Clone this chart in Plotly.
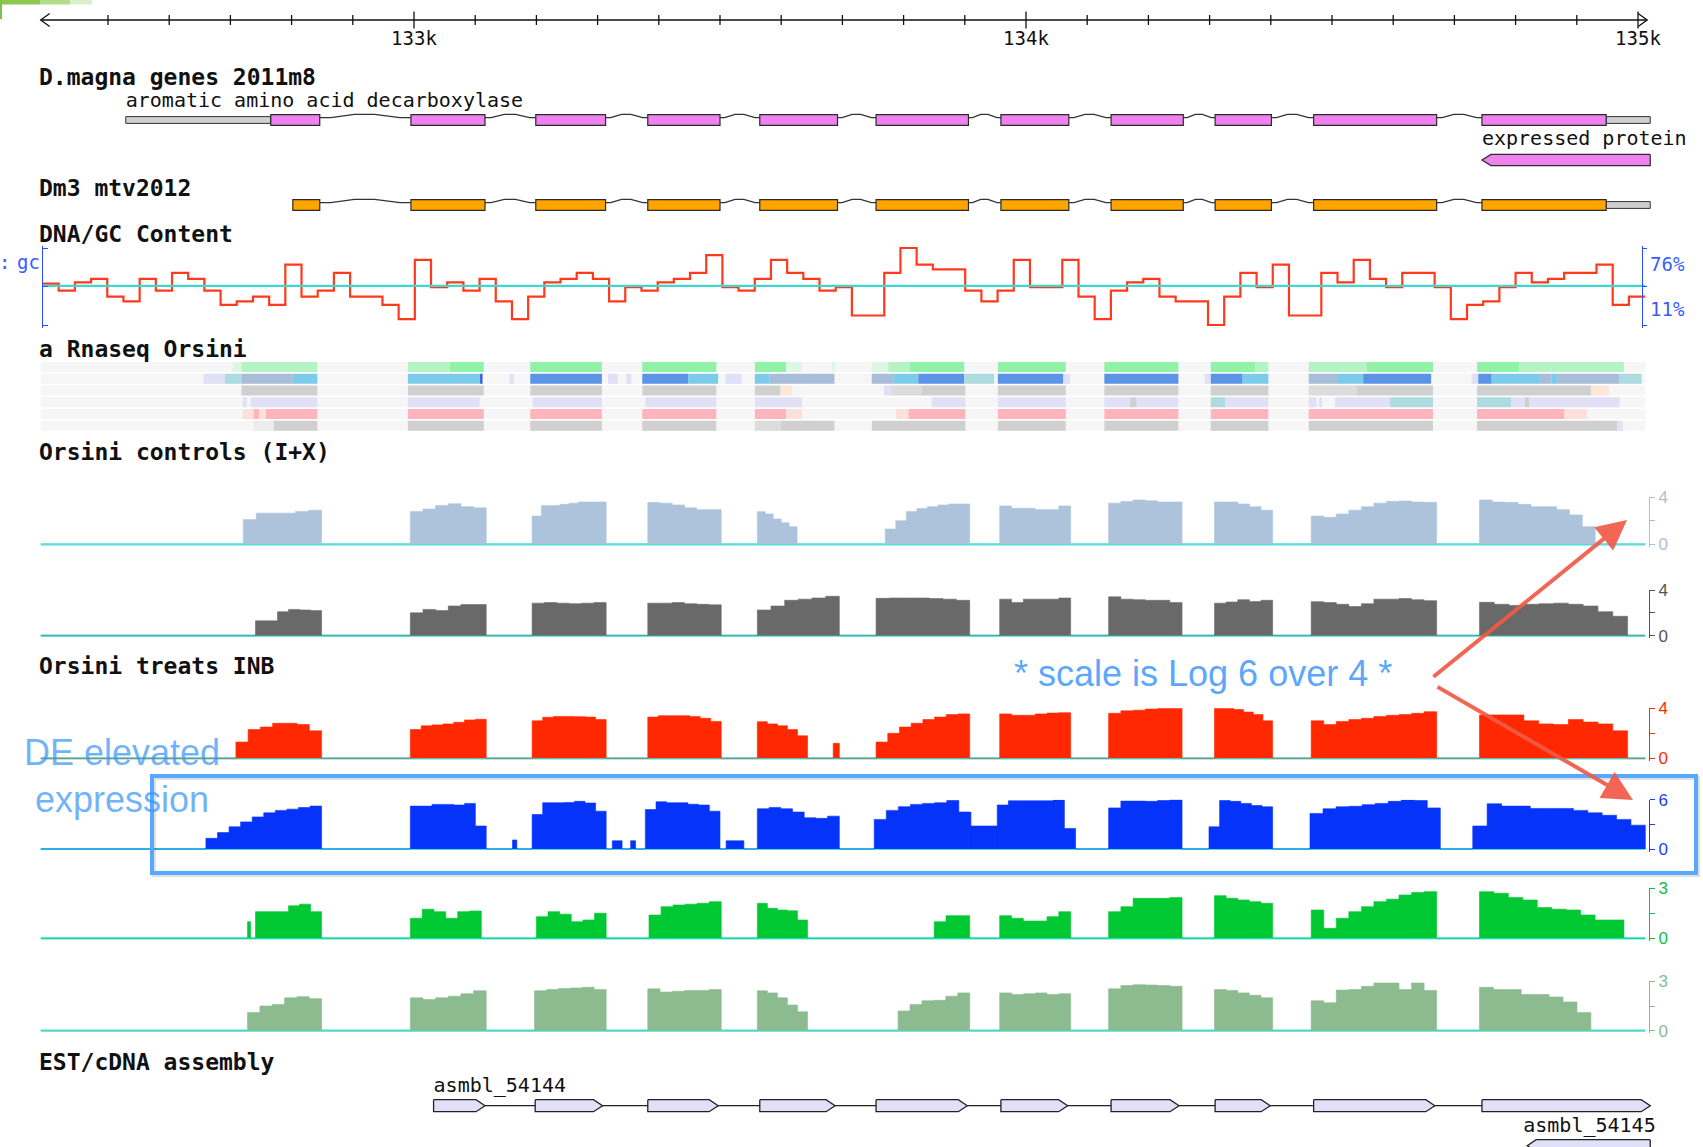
import plotly.graph_objects as go

W, H = 1703, 1147
PX_133K, PX_134K = 414.0, 1026.0
BP_PER_PX = 1000.0 / (PX_134K - PX_133K)
X0 = 133000 - PX_133K * BP_PER_PX
X1 = X0 + W * BP_PER_PX

# ------------------------------------------------------------------ data
ruler_span = [132390, 135015]
ruler_major = [133000, 134000, 135000]
ruler_major_labels = ["133k", "134k", "135k"]
ruler_minor = [132500, 132600, 132700, 132800, 132900,
               133100, 133200, 133300, 133400, 133500, 133600, 133700, 133800, 133900,
               134100, 134200, 134300, 134400, 134500, 134600, 134700, 134800, 134900]

dmagna_label = "aromatic amino acid decarboxylase"
dmagna_utrs = [(132529, 132766), (134948, 135020)]
dmagna_exon_starts = [132766, 132995, 133199, 133382, 133565, 133755, 133959, 134139, 134309, 134470, 134745]
dmagna_exon_ends = [132846, 133116, 133313, 133500, 133692, 133906, 134070, 134257, 134401, 134671, 134948]
expressed_label = "expressed protein"
expressed_protein = (134745, 135020)

dm3_utrs = [(134948, 135020)]
dm3_exon_starts = [132802, 132995, 133199, 133382, 133565, 133755, 133959, 134139, 134309, 134470, 134745]
dm3_exon_ends = [132846, 133116, 133313, 133500, 133692, 133906, 134070, 134257, 134401, 134671, 134948]

gc_start = 132393
gc_window = 26.45
gc_values = [46, 40, 47, 50, 35, 31, 50, 40, 55, 50, 40, 28, 31, 35, 28, 62, 35, 40, 55, 35,
             35, 28, 16, 66, 43, 47, 40, 50, 31, 16, 35, 47, 50, 55, 50, 31, 43, 40, 47, 50,
             55, 70, 43, 40, 50, 66, 55, 50, 40, 43, 19, 19, 55, 76, 62, 58, 58, 40, 31, 40,
             66, 43, 43, 66, 35, 16, 40, 47, 50, 35, 31, 31, 11, 35, 55, 43, 62, 19, 19, 55,
             47, 66, 50, 43, 55, 55, 43, 16, 28, 31, 43, 55, 47, 50, 55, 55, 62, 28, 35]
gc_range = [11, 76]
gc_mid = 44

# Rnaseq summary rows: (start, end, colour)
G1, G2, G3 = "#90f2a6", "#b4f4c4", "#dcf8e4"
LAV, TEAL, GB, SKY, BL, DB = "#e0e0f6", "#aedbe0", "#a8bdd8", "#7ccbea", "#5b94e6", "#2f5fd8"
GR, LG, LG2, PEACH = "#d0d0d0", "#dcdcdc", "#ececec", "#fbe8da"
PINK, PEACH2 = "#ffb3bd", "#fde0dc"
rna_rows = [
    [(132704, 132718, G3), (132718, 132842, G2), (132990, 133059, G2), (133059, 133114, G1),
     (133190, 133307, G1), (133373, 133494, G1), (133557, 133608, G1), (133608, 133634, G3),
     (133683, 133688, G3), (133748, 133775, G3), (133775, 133810, G2), (133810, 133899, G1),
     (133954, 134065, G1), (134128, 134249, G1), (134302, 134375, G1), (134375, 134396, G2),
     (134462, 134557, G2), (134557, 134665, G1), (134737, 134806, G1), (134806, 134977, G2)],
    [(132656, 132691, LAV), (132691, 132718, TEAL), (132718, 132802, GB), (132802, 132842, SKY),
     (132990, 133108, SKY), (133108, 133112, DB), (133156, 133163, LAV), (133190, 133307, BL),
     (133317, 133333, LAV), (133347, 133355, LAV), (133373, 133448, BL), (133448, 133497, SKY),
     (133509, 133535, LAV), (133557, 133581, SKY), (133581, 133687, GB),
     (133748, 133784, GB), (133784, 133824, SKY), (133824, 133899, BL), (133899, 133948, TEAL),
     (133954, 134061, BL), (134061, 134072, LAV), (134128, 134249, BL), (134292, 134302, LAV),
     (134302, 134354, BL), (134354, 134396, SKY), (134462, 134508, GB), (134508, 134551, SKY),
     (134551, 134662, BL), (134728, 134739, LAV), (134739, 134761, BL), (134761, 134840, SKY),
     (134840, 134859, GB), (134859, 134868, SKY), (134868, 134969, GB), (134969, 135006, TEAL)],
    [(132718, 132842, GR), (132990, 133114, GR), (133190, 133307, GR), (133373, 133494, GR),
     (133557, 133599, GR), (133599, 133618, PEACH), (133768, 133779, LAV), (133779, 133830, LG),
     (133830, 133901, GR), (133954, 134065, GR), (134128, 134249, GR), (134302, 134396, GR),
     (134462, 134540, LG), (134540, 134665, GR), (134737, 134923, GR), (134923, 134953, PEACH)],
    [(132720, 132727, LAV), (132733, 132842, LAV), (132990, 133107, LAV), (133194, 133307, LAV),
     (133378, 133494, LAV), (133557, 133634, LAV), (133846, 133901, LAV), (133954, 134065, LAV),
     (134128, 134170, LAV), (134170, 134181, GR), (134181, 134249, LAV), (134302, 134326, TEAL),
     (134326, 134396, LAV), (134462, 134475, LAV), (134479, 134484, LAV), (134505, 134595, LAV),
     (134595, 134665, TEAL), (134737, 134793, TEAL), (134793, 134815, LAV), (134815, 134822, GR),
     (134822, 134970, LAV)],
    [(132720, 132738, PEACH2), (132738, 132747, PINK), (132747, 132758, PEACH2), (132758, 132842, PINK),
     (132990, 133114, PINK), (133190, 133307, PINK), (133373, 133494, PINK), (133557, 133608, PINK),
     (133608, 133634, PEACH2), (133788, 133808, PEACH2), (133808, 133901, PINK), (133954, 134065, PINK),
     (134128, 134249, PINK), (134302, 134396, PINK), (134462, 134665, PINK), (134737, 134880, PINK),
     (134880, 134917, PEACH2)],
    [(132738, 132771, LG2), (132771, 132842, GR), (132990, 133114, GR), (133190, 133307, GR),
     (133373, 133494, GR), (133557, 133599, LG), (133599, 133687, GR), (133748, 133901, GR),
     (133954, 134065, GR), (134128, 134249, GR), (134302, 134396, GR), (134462, 134665, GR),
     (134737, 134966, GR), (134966, 134975, LAV)],
]
rna_span = (132390, 135012)

# coverage blocks: (start, end, values in equal sub-steps)
ctrl1_blocks = [
    (132721, 132849, [2.1, 2.65, 2.65, 2.65, 2.8, 2.9]),
    (132994, 133118, [2.8, 3.0, 3.3, 3.45, 3.2, 3.1]),
    (133193, 133314, [2.4, 3.3, 3.3, 3.4, 3.5, 3.6, 3.6, 3.6]),
    (133382, 133502, [3.55, 3.5, 3.35, 3.1, 2.95, 2.95]),
    (133561, 133626, [2.78, 2.58, 2.16, 1.84, 1.5]),
    (133770, 133908, [1.3, 2.0, 2.8, 3.05, 3.2, 3.35, 3.43, 3.43]),
    (133957, 134073, [3.26, 3.06, 3.06, 2.95, 2.95, 3.26]),
    (134135, 134255, [3.5, 3.65, 3.77, 3.7, 3.6, 3.6]),
    (134308, 134403, [3.6, 3.6, 3.43, 3.2, 2.9]),
    (134466, 134671, [2.4, 2.3, 2.58, 2.9, 3.2, 3.5, 3.65, 3.69, 3.6, 3.57]),
    (134741, 134930, [3.77, 3.6, 3.57, 3.4, 3.2, 3.2, 2.95, 2.5, 1.5]),
]
ctrl2_blocks = [
    (132741, 132849, [1.3, 1.3, 2.1, 2.3, 2.25, 2.2]),
    (132994, 133118, [2.0, 2.3, 2.2, 2.6, 2.72, 2.72]),
    (133193, 133314, [2.85, 2.9, 2.85, 2.8, 2.85, 2.9]),
    (133382, 133502, [2.85, 2.85, 2.9, 2.8, 2.75, 2.7]),
    (133561, 133695, [2.25, 2.6, 3.1, 3.2, 3.3, 3.45]),
    (133755, 133908, [3.27, 3.3, 3.3, 3.3, 3.25, 3.2, 3.1]),
    (133957, 134073, [3.2, 2.9, 3.2, 3.2, 3.2, 3.3]),
    (134135, 134255, [3.4, 3.2, 3.15, 3.1, 3.1, 2.9]),
    (134308, 134403, [2.85, 2.95, 3.15, 3.0, 3.1]),
    (134466, 134671, [2.98, 2.9, 2.75, 2.55, 2.8, 3.2, 3.2, 3.25, 3.15, 3.07]),
    (134741, 134983, [2.92, 2.75, 2.65, 2.75, 2.8, 2.85, 2.75, 2.6, 2.1, 1.7]),
]
treat1_blocks = [
    (132709, 132849, [1.3, 2.3, 2.5, 2.8, 2.8, 2.7, 2.2]),
    (132994, 133118, [2.3, 2.6, 2.67, 2.75, 2.88, 3.07, 3.12]),
    (133193, 133314, [3.0, 3.28, 3.35, 3.35, 3.33, 3.3, 3.1]),
    (133382, 133502, [3.3, 3.41, 3.41, 3.41, 3.35, 3.2, 2.95]),
    (133561, 133643, [2.93, 2.75, 2.6, 2.3, 1.8]),
    (133685, 133695, [1.2]),
    (133755, 133908, [1.3, 2.0, 2.5, 2.8, 3.1, 3.3, 3.5, 3.55]),
    (133957, 134073, [3.55, 3.44, 3.44, 3.55, 3.62, 3.65]),
    (134135, 134255, [3.6, 3.8, 3.85, 3.95, 4.0, 4.08]),
    (134308, 134403, [4.08, 4.0, 3.9, 3.7, 3.5, 3.0]),
    (134466, 134671, [3.0, 2.7, 2.95, 3.1, 3.2, 3.35, 3.44, 3.5, 3.6, 3.73]),
    (134741, 134983, [3.47, 3.47, 3.47, 3.0, 2.75, 2.7, 3.1, 2.9, 2.75, 2.2]),
]
treat2_blocks = [
    (132660, 132849, [1.3, 2.0, 2.7, 3.3, 3.9, 4.4, 4.7, 4.85, 5.05, 5.22]),
    (132994, 133118, [5.22, 5.22, 5.43, 5.43, 5.35, 5.55, 2.8]),
    (133161, 133168, [1.1]),
    (133193, 133314, [4.2, 5.63, 5.63, 5.65, 5.8, 5.6, 4.6]),
    (133324, 133340, [1.0]),
    (133354, 133362, [1.0]),
    (133378, 133500, [4.8, 5.75, 5.63, 5.63, 5.45, 5.35, 4.6]),
    (133510, 133539, [1.0]),
    (133561, 133695, [4.9, 5.06, 4.9, 4.5, 3.8, 3.73, 4.0]),
    (133752, 133910, [3.6, 4.7, 5.15, 5.43, 5.55, 5.63, 5.9, 4.5]),
    (133910, 133953, [2.8]),
    (133953, 134081, [5.35, 5.87, 5.87, 5.87, 5.87, 5.95, 2.5]),
    (134135, 134255, [5.0, 5.83, 5.83, 5.8, 5.9, 6.0]),
    (134299, 134403, [2.7, 5.9, 5.8, 5.55, 5.3, 5.14]),
    (134464, 134677, [4.33, 4.9, 5.14, 5.2, 5.4, 5.55, 5.8, 5.95, 5.9, 5.0]),
    (134730, 135012, [2.8, 5.5, 5.22, 5.22, 4.94, 4.94, 4.94, 4.7, 4.4, 4.1, 3.6, 2.9]),
]
treat3_blocks = [
    (132728, 132733, [1.0]),
    (132741, 132849, [1.6, 1.6, 1.6, 1.95, 2.05, 1.6]),
    (132994, 133110, [1.2, 1.74, 1.6, 1.2, 1.6, 1.64]),
    (133200, 133314, [1.3, 1.6, 1.45, 1.0, 1.1, 1.5]),
    (133384, 133502, [1.4, 1.9, 2.0, 2.05, 2.1, 2.2]),
    (133561, 133643, [2.1, 1.8, 1.7, 1.65, 1.1]),
    (133850, 133908, [1.0, 1.36, 1.36]),
    (133957, 134073, [1.36, 1.2, 1.04, 1.04, 1.3, 1.6]),
    (134135, 134255, [1.6, 1.9, 2.4, 2.4, 2.4, 2.45]),
    (134308, 134403, [2.56, 2.4, 2.3, 2.2, 2.1]),
    (134466, 134671, [1.7, 0.6, 1.2, 1.6, 1.9, 2.2, 2.35, 2.6, 2.75, 2.8]),
    (134741, 134977, [2.8, 2.7, 2.45, 2.3, 1.85, 1.75, 1.7, 1.4, 1.1, 1.1]),
]
treat4_blocks = [
    (132728, 132849, [1.1, 1.5, 1.6, 2.0, 2.07, 1.95]),
    (132994, 133118, [2.0, 1.9, 2.0, 2.1, 2.25, 2.43]),
    (133197, 133314, [2.43, 2.5, 2.57, 2.6, 2.64, 2.5]),
    (133382, 133502, [2.55, 2.35, 2.4, 2.45, 2.45, 2.5]),
    (133561, 133643, [2.43, 2.3, 2.0, 1.56, 1.15]),
    (133791, 133908, [1.2, 1.6, 1.82, 1.85, 2.1, 2.3]),
    (133957, 134073, [2.3, 2.2, 2.25, 2.3, 2.2, 2.25]),
    (134135, 134255, [2.55, 2.75, 2.8, 2.78, 2.75, 2.7]),
    (134308, 134403, [2.5, 2.45, 2.3, 2.15, 2.0]),
    (134466, 134671, [1.82, 1.7, 2.47, 2.5, 2.7, 2.9, 2.9, 2.5, 2.9, 2.45]),
    (134741, 134923, [2.64, 2.5, 2.5, 2.2, 2.2, 2.05, 1.75, 1.1]),
]
cov_span = (132390, 135012)

est1_label = "asmbl_54144"
est1_starts = [133032, 133198, 133382, 133565, 133755, 133959, 134139, 134309, 134470, 134745]
est1_ends = [133116, 133308, 133497, 133688, 133904, 134068, 134250, 134399, 134668, 135020]
est2_label = "asmbl_54145"
est2 = (134819, 135020)

track_titles = ["D.magna genes 2011m8", "Dm3 mtv2012", "DNA/GC Content", "a Rnaseq Orsini",
                "Orsini controls (I+X)", "Orsini treats INB", "EST/cDNA assembly"]

# ------------------------------------------------------------------ helpers
def fx(px):
    return px / W


def fy(py):
    return 1 - py / H


def dom(top, bottom):
    return [max(0.0, 1 - bottom / H), min(1.0, 1 - top / H)]


MONO = "DejaVu Sans Mono"
SANS = "Liberation Sans, Arial, sans-serif"
NARROW = "Liberation Sans Narrow, Liberation Sans, Arial"

fig = go.Figure()


def add(tr):
    tr.update(hoverinfo="skip", showlegend=False)
    fig.add_trace(tr)


# ------------------------------------------------------------------ ruler
add(go.Scatter(x=ruler_span, y=[0, 0], mode="lines", line=dict(color="#111", width=1.6), yaxis="y"))
tx, ty = [], []
for t in ruler_minor:
    tx += [t, t, None]
    ty += [-0.5, 0.5, None]
for t in ruler_major:
    tx += [t, t, None]
    ty += [-0.85, 0.85, None]
ah = 9 * BP_PER_PX
tx += [ruler_span[0] + ah, ruler_span[0], ruler_span[0] + ah, None,
       ruler_span[1] - ah, ruler_span[1], ruler_span[1] - ah]
ty += [0.65, 0, -0.65, None, 0.65, 0, -0.65]
add(go.Scatter(x=tx, y=ty, mode="lines", line=dict(color="#111", width=1.3), yaxis="y"))
add(go.Scatter(x=ruler_major, y=[-2.0] * 3, mode="text", text=ruler_major_labels,
               textfont=dict(family=MONO, size=19, color="#111"), yaxis="y", cliponaxis=False))


# ------------------------------------------------------------------ gene tracks
def gene_track(starts, ends, utrs, color, yax):
    xs, ys = [], []
    for a, b in zip(ends[:-1], starts[1:]):
        L = b - a
        xs += [a, a + 0.12 * L, a + 0.38 * L, a + 0.6 * L, a + 0.88 * L, b, None]
        ys += [-0.06, -0.06, -0.14, -0.14, -0.06, -0.06, None]
    add(go.Scatter(x=xs, y=ys, mode="lines", line=dict(color="#333", width=1.3), yaxis=yax))
    add(go.Bar(orientation="h", base=[u[0] for u in utrs], x=[u[1] - u[0] for u in utrs],
               y=[0] * len(utrs), width=0.17, yaxis=yax,
               marker=dict(color="#cfcfcf", line=dict(color="#333", width=1))))
    add(go.Bar(orientation="h", base=starts, x=[e - s for s, e in zip(starts, ends)],
               y=[0] * len(starts), width=0.27, yaxis=yax,
               marker=dict(color=color, line=dict(color="#2a2a2a", width=1.2))))


def arrow_poly(s, e, yc, h, d, direction):
    if direction > 0:
        return ([s, e - d, e, e - d, s, s, None], [yc - h, yc - h, yc, yc + h, yc + h, yc - h, None])
    return ([e, s + d, s, s + d, e, e, None], [yc - h, yc - h, yc, yc + h, yc + h, yc - h, None])


gene_track(dmagna_exon_starts, dmagna_exon_ends, dmagna_utrs, "#ee82ee", "y2")
add(go.Scatter(x=[dmagna_utrs[0][0]], y=[-0.45], mode="text", text=[dmagna_label], textposition="middle right",
               textfont=dict(family=MONO, size=20, color="#111"), yaxis="y2", cliponaxis=False))
px_, py_ = arrow_poly(expressed_protein[0], expressed_protein[1], 1.0, 0.14, 9 * BP_PER_PX, -1)
add(go.Scatter(x=px_, y=py_, mode="lines", fill="toself", fillcolor="#ee82ee",
               line=dict(color="#2a2a2a", width=1.2), yaxis="y2"))
add(go.Scatter(x=[expressed_protein[0]], y=[0.5], mode="text", text=[expressed_label], textposition="middle right",
               textfont=dict(family=MONO, size=20, color="#111"), yaxis="y2", cliponaxis=False))

gene_track(dm3_exon_starts, dm3_exon_ends, dm3_utrs, "#ffa500", "y3")

# ------------------------------------------------------------------ GC content
add(go.Scatter(x=[gc_start, gc_start + gc_window * len(gc_values)], y=[gc_mid, gc_mid], mode="lines",
               line=dict(color="#3fd8cc", width=2.2), yaxis="y5"))
gx = [gc_start + i * gc_window for i in range(len(gc_values) + 1)]
gy = gc_values + [gc_values[-1]]
add(go.Scatter(x=gx, y=gy, mode="lines", line=dict(color="#ff3a1c", width=2.2, shape="hv"), yaxis="y4"))

# ------------------------------------------------------------------ Rnaseq summary rows
add(go.Bar(orientation="h", base=[rna_span[0]] * 6, x=[rna_span[1] - rna_span[0]] * 6, y=list(range(6)),
           width=0.86, marker=dict(color="#f6f6f6", line=dict(width=0)), yaxis="y6"))
for r, row in enumerate(rna_rows):
    add(go.Bar(orientation="h", base=[s for s, e, c in row], x=[e - s for s, e, c in row], y=[r] * len(row),
               width=0.86, marker=dict(color=[c for s, e, c in row], line=dict(width=0)), yaxis="y6"))


# ------------------------------------------------------------------ coverage
def coverage_xy(blocks):
    xs, ys = [cov_span[0]], [0]
    for s, e, vals in blocks:
        w = (e - s) / len(vals)
        for k, v in enumerate(vals):
            xs.append(s + k * w)
            ys.append(v)
        xs.append(e)
        ys.append(0)
    xs.append(cov_span[1])
    ys.append(0)
    return xs, ys


cov_tracks = [
    (ctrl1_blocks, 4, "#adc3dc", "#a9c0dc", (497.3, 544.3), "y7"),
    (ctrl2_blocks, 4, "#696969", "#555555", (590.0, 635.7), "y8"),
    (treat1_blocks, 4, "#ff2800", "#ff2a00", (708.3, 758.3), "y9"),
    (treat2_blocks, 6, "#0533fa", "#1a3cff", (799.7, 849.0), "y10"),
    (treat3_blocks, 3, "#00c832", "#10c040", (888.3, 938.3), "y11"),
    (treat4_blocks, 3, "#8bbb8f", "#8abb8f", (981.4, 1030.7), "y12"),
]
for blocks, vmax, fill, axc, (top, base), yax in cov_tracks:
    add(go.Scatter(x=list(cov_span), y=[0, 0], mode="lines", line=dict(color="#3fe3dc", width=2.2), yaxis=yax))
    xs, ys = coverage_xy(blocks)
    add(go.Scatter(x=xs, y=ys, mode="lines", fill="tozeroy", fillcolor=fill,
                   line=dict(color=fill, width=0.6, shape="hv"), yaxis=yax))

# ------------------------------------------------------------------ EST
add(go.Scatter(x=[est1_starts[0], est1_ends[-1]], y=[0, 0], mode="lines", line=dict(color="#222", width=1.3), yaxis="y13"))
ex, ey = [], []
for s, e in zip(est1_starts, est1_ends):
    a, b = arrow_poly(s, e, 0, 0.15, 9 * BP_PER_PX, 1)
    ex += a
    ey += b
add(go.Scatter(x=ex, y=ey, mode="lines", fill="toself", fillcolor="#e0e0f8",
               line=dict(color="#222", width=1.3), yaxis="y13"))
a, b = arrow_poly(est2[0], est2[1], 1.0, 0.15, 9 * BP_PER_PX, -1)
add(go.Scatter(x=a, y=b, mode="lines", fill="toself", fillcolor="#e0e0f8",
               line=dict(color="#222", width=1.3), yaxis="y13"))
add(go.Scatter(x=[est1_starts[0], est2[0] - 4 * BP_PER_PX], y=[-0.47, 0.53], mode="text",
               text=[est1_label, est2_label], textposition="middle right",
               textfont=dict(family=MONO, size=20, color="#111"), yaxis="y13", cliponaxis=False))


# ------------------------------------------------------------------ axes
def hidden(domain, rng):
    return dict(domain=domain, range=rng, visible=False, fixedrange=True, anchor="x", automargin=False)


def row_axis(row0_px, unit_px, top_px, bottom_px):
    return hidden(dom(top_px, bottom_px),
                  [(bottom_px - row0_px) / unit_px, (top_px - row0_px) / unit_px])


def value_axis(top, base, vmin, vmax, color, pos, side, ticks, ticklen, labels, pad_t=0, pad_b=2.5):
    u = (vmax - vmin) / (base - top)
    d = dict(domain=dom(top - pad_t, base + pad_b), range=[vmin - pad_b * u, vmax + pad_t * u],
             anchor="free", position=pos, side=side, showline=True, linecolor=color, linewidth=1.2,
             ticks=ticks, ticklen=ticklen, tickwidth=1.2, tickcolor=color, automargin=False,
             tickvals=[vmin, (vmin + vmax) / 2, vmax], showgrid=False, zeroline=False, fixedrange=True)
    if labels:
        d.update(ticktext=["0", "", str(vmax)], showticklabels=True,
                 tickfont=dict(family=NARROW, size=17, color=color))
    else:
        d.update(showticklabels=False)
    return d


layout_axes = {
    "yaxis": hidden(dom(5, 50), [-3.0, 1.5]),
    "yaxis2": row_axis(120, 40, 90, 175),
    "yaxis3": row_axis(205, 40, 185, 225),
    "yaxis4": value_axis(248, 325, gc_range[0], gc_range[1], "#2a4bff", fx(1642), "right", "outside", 4,
                         False, pad_t=2.5),
    "yaxis6": row_axis(367, 11.75, 361, 431.5),
    "yaxis13": row_axis(1105.7, 40, 1080, 1147),
}
gc_left = value_axis(248, 325, gc_range[0], gc_range[1], "#2a4bff", fx(42), "left", "inside", 5, False, pad_t=2.5)
gc_left.update(overlaying="y4")
gc_left.pop("domain")
layout_axes["yaxis5"] = gc_left
for blocks, vmax, fill, axc, (top, base), yax in cov_tracks:
    layout_axes["yaxis" + yax[1:]] = value_axis(top, base, 0, vmax, axc, fx(1649), "right", "outside", 5, True)

# ------------------------------------------------------------------ annotations
title_y = [77, 188, 234, 349, 452, 666, 1062]
annotations = []
for t, y in zip(track_titles, title_y):
    annotations.append(dict(x=fx(37), y=fy(y), xref="paper", yref="paper", xanchor="left", yanchor="middle",
                            text="<b>" + t + "</b>", showarrow=False,
                            font=dict(family=MONO, size=23, color="#111")))
annotations += [
    dict(x=fx(15), y=fy(262), xref="paper", yref="paper", xanchor="left", yanchor="middle", text="gc",
         showarrow=False, font=dict(family=MONO, size=19, color="#3a5cff")),
    dict(x=fx(-3), y=fy(262), xref="paper", yref="paper", xanchor="left", yanchor="middle", text=":",
         showarrow=False, font=dict(family=MONO, size=19, color="#3a5cff")),
    dict(x=fx(1648), y=76, xref="paper", yref="y4", xanchor="left", yanchor="top", text="76%", yshift=-3,
         showarrow=False, font=dict(family=MONO, size=19, color="#3a5cff")),
    dict(x=fx(1648), y=11, xref="paper", yref="y4", xanchor="left", yanchor="bottom", text="11%", yshift=3,
         showarrow=False, font=dict(family=MONO, size=19, color="#3a5cff")),
    dict(x=fx(22), y=fy(752), xref="paper", yref="paper", xanchor="left", yanchor="middle", text="DE elevated",
         showarrow=False, font=dict(family=SANS, size=36, color="rgba(60,150,245,0.72)")),
    dict(x=fx(33), y=fy(799), xref="paper", yref="paper", xanchor="left", yanchor="middle", text="expression",
         showarrow=False, font=dict(family=SANS, size=36, color="rgba(60,150,245,0.72)")),
    dict(x=fx(1203), y=fy(673), xref="paper", yref="paper", xanchor="center", yanchor="middle",
         text="* scale is Log 6 over 4 *", showarrow=False,
         font=dict(family=SANS, size=36, color="rgba(75,160,250,0.92)")),
    dict(x=fx(1627), y=fy(520), xref="paper", yref="paper", ax=1432 - 1627, ay=678 - 520, axref="pixel",
         ayref="pixel", text="", showarrow=True, arrowhead=2, arrowsize=1.5, arrowwidth=4,
         arrowcolor="rgba(240,90,70,0.92)", standoff=0),
    dict(x=fx(1633), y=fy(800), xref="paper", yref="paper", ax=1436 - 1633, ay=686 - 800, axref="pixel",
         ayref="pixel", text="", showarrow=True, arrowhead=2, arrowsize=1.5, arrowwidth=4,
         arrowcolor="rgba(240,90,70,0.92)", standoff=0),
]

shapes = [
    dict(type="rect", xref="paper", yref="paper", x0=fx(154), x1=fx(1698), y0=fy(778), y1=fy(875),
         line=dict(color="rgba(0,0,0,0.12)", width=4)),
    dict(type="rect", xref="paper", yref="paper", x0=fx(152), x1=fx(1696), y0=fy(776), y1=fy(873),
         line=dict(color="#55a9ff", width=4)),
    dict(type="rect", xref="paper", yref="paper", x0=0, x1=fx(40), y0=fy(4.5), y1=1,
         fillcolor="#8cc850", line=dict(width=0)),
    dict(type="rect", xref="paper", yref="paper", x0=fx(40), x1=fx(70), y0=fy(4.5), y1=1,
         fillcolor="#b4dc8c", line=dict(width=0)),
    dict(type="rect", xref="paper", yref="paper", x0=fx(70), x1=fx(92), y0=fy(4.5), y1=1,
         fillcolor="#dcefc8", line=dict(width=0)),
    dict(type="rect", xref="paper", yref="paper", x0=0, x1=fx(2), y0=fy(19), y1=1,
         fillcolor="#7cc24a", line=dict(width=0)),
]

fig.update_layout(
    width=W, height=H, margin=dict(l=0, r=0, t=0, b=0, pad=0, autoexpand=False), autosize=False,
    paper_bgcolor="white", plot_bgcolor="rgba(0,0,0,0)", showlegend=False, barmode="overlay",
    xaxis=dict(range=[X0, X1], domain=[0, 1], visible=False, fixedrange=True, automargin=False),
    annotations=annotations, shapes=shapes, **layout_axes,
)

fig.write_html("out.html", config={"displayModeBar": False},
               post_script="document.body.style.margin='0';document.body.style.overflow='hidden';")
